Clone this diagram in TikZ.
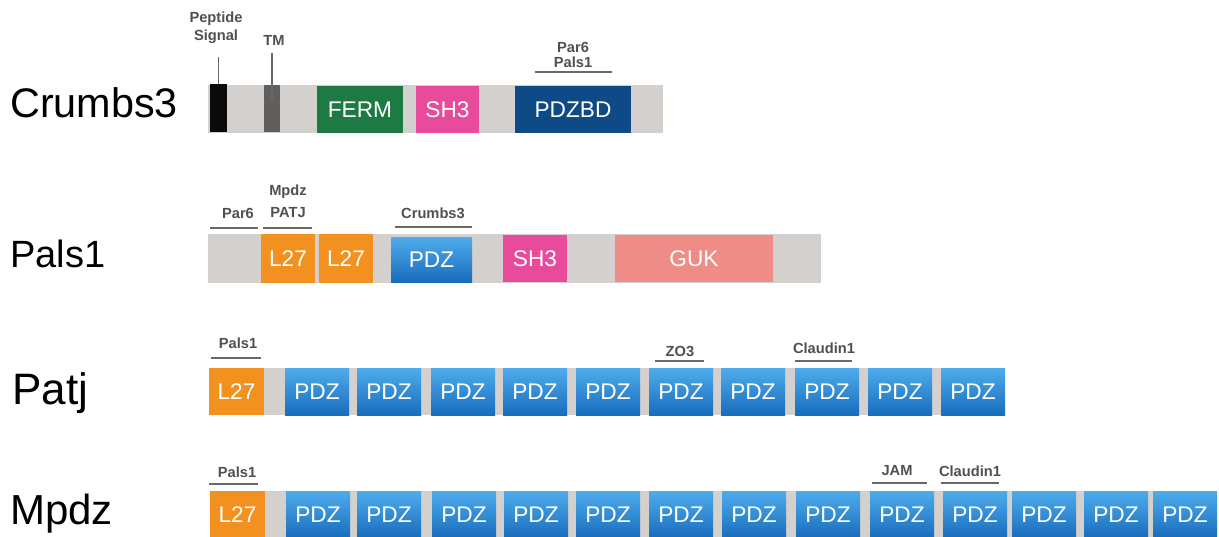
\documentclass[tikz,border=0pt]{standalone}
\usepackage{fontspec}
\setmainfont{Liberation Sans}
\definecolor{barg}{RGB}{212,208,206}
\definecolor{sigc}{RGB}{10,10,10}
\definecolor{tmc}{RGB}{95,95,95}
\definecolor{fermc}{RGB}{30,122,67}
\definecolor{shc}{RGB}{232,74,156}
\definecolor{pdzbdc}{RGB}{14,74,134}
\definecolor{l27c}{RGB}{242,145,32}
\definecolor{pdzT}{RGB}{78,172,236}
\definecolor{pdzB}{RGB}{24,108,188}
\definecolor{gukc}{RGB}{240,140,136}
\definecolor{labc}{RGB}{80,80,80}
\definecolor{linec}{RGB}{105,105,105}
\tikzset{
  dombox/.style={inner sep=0pt, outer sep=0pt, draw=none, text=white, font=\fontsize{17}{20}\selectfont},
  barbox/.style={inner sep=0pt, outer sep=0pt, draw=none, fill=barg},
  pdz/.style={top color=pdzT, bottom color=pdzB},
  biglab/.style={inner sep=0pt, anchor=base west},
  smalllab/.style={inner sep=0pt, text=labc, font=\bfseries\fontsize{11}{13}\selectfont},
  bindline/.style={draw=linec, line width=1.1pt},
  pinline/.style={draw=linec, line width=1.1pt}
}
\newcommand\domain[7]{\node[dombox,#6,minimum width={(#4-(#2))*0.75pt},minimum height={(#5-(#3))*0.75pt}] (#1) at ({((#2)+(#4))/2},{((#3)+(#5))/2}) {#7};}
\newcommand\backbone[5]{\node[barbox,minimum width={(#4-(#2))*0.75pt},minimum height={(#5-(#3))*0.75pt}] (#1) at ({((#2)+(#4))/2},{((#3)+(#5))/2}) {};}
\begin{document}
\begin{tikzpicture}[x=0.75pt,y=-0.75pt]
\useasboundingbox (0,0) rectangle (1219,536);
\fill[white] (0,0) rectangle (1219,536);

% ---------- row labels
\node[biglab, font=\fontsize{31}{36}\selectfont] (tCrb) at (10,117) {Crumbs3};
\node[biglab, font=\fontsize{28.5}{34}\selectfont] (tPals) at (10,267) {Pals1};
\node[biglab, font=\fontsize{33}{38}\selectfont] (tPatj) at (12,404) {Patj};
\node[biglab, font=\fontsize{31.5}{36}\selectfont] (tMpdz) at (10,524) {Mpdz};

% ---------- Crumbs3
\backbone{cbar}{208}{85}{663}{133}
\domain{csig}{210}{84}{227}{132}{fill=sigc}{}
\domain{ctm}{264}{85}{280}{132}{fill=tmc}{}
\domain{cferm}{317}{86}{403}{133}{fill=fermc}{FERM}
\domain{csh}{416}{86}{479}{133}{fill=shc}{SH3}
\domain{cpdzbd}{515}{86}{631}{133}{fill=pdzbdc}{PDZBD}
\node[smalllab] (lpep) at (216,19) {Peptide};
\node[smalllab] (lsig) at (216,37) {Signal};
\node[smalllab] (ltm) at (274,40) {TM};
\coordinate (sigtop) at (218.5,57);
\coordinate (tmtop) at (272,53);
\coordinate (tmin) at (272,100);
\draw[pinline] (sigtop) -- (csig.north);
\draw[pinline] (tmtop) -- (tmin);
\node[smalllab] (lpar6a) at (573,47) {Par6};
\node[smalllab] (lpals1a) at (573,62) {Pals1};
\draw[bindline] (535,72) -- (612,72);

% ---------- Pals1
\backbone{pbar}{208}{234}{821}{283}
\domain{pl27a}{261}{234}{315}{283}{fill=l27c}{L27}
\domain{pl27b}{319}{234}{373}{283}{fill=l27c}{L27}
\domain{ppdz}{391}{237}{472}{282}{pdz}{PDZ}
\domain{psh}{503}{235}{567}{282}{fill=shc}{SH3}
\domain{pguk}{615}{235}{773}{282}{fill=gukc}{GUK}
\node[smalllab] (lpar6b) at (238,213) {Par6};
\draw[bindline] (210,228) -- (258,228);
\node[smalllab] (lmpdzb) at (288,192) {Mpdz};
\node[smalllab] (lpatjb) at (288,213) {PATJ};
\draw[bindline] (263,228) -- (312,228);
\node[smalllab] (lcrbb) at (433,213) {Crumbs3};
\draw[bindline] (395,227) -- (472,227);

% ---------- Patj
\backbone{tbar}{209}{368}{1005}{415}
\domain{tl27}{209}{368}{264}{415}{fill=l27c}{L27}
\foreach \x [count=\i] in {285,357,431,503,576,649,721,795,868,941}{
  \domain{tpdz\i}{\x}{368}{\x+64}{415}{pdz}{PDZ}
}
\node[smalllab] (lpals1c) at (238,343) {Pals1};
\draw[bindline] (211,358) -- (261,358);
\node[smalllab] (lzo3) at (680,351) {ZO3};
\draw[bindline] (655,361) -- (704,361);
\node[smalllab] (lcl1c) at (824,348) {Claudin1};
\draw[bindline] (795,361) -- (852,361);

% ---------- Mpdz
\backbone{mbar}{210}{491}{1217}{538}
\domain{ml27}{210}{491}{265}{538}{fill=l27c}{L27}
\foreach \x [count=\i] in {286,357,432,504,576,649,722,796,870,943,1012,1084,1153}{
  \domain{mpdz\i}{\x}{491}{\x+64}{538}{pdz}{PDZ}
}
\node[smalllab] (lpals1d) at (237,472) {Pals1};
\draw[bindline] (209,484) -- (258,484);
\node[smalllab] (ljam) at (897,471) {JAM};
\draw[bindline] (872,483) -- (927,483);
\node[smalllab] (lcl1d) at (970,471) {Claudin1};
\draw[bindline] (941,483) -- (999,483);
\end{tikzpicture}
\end{document}
